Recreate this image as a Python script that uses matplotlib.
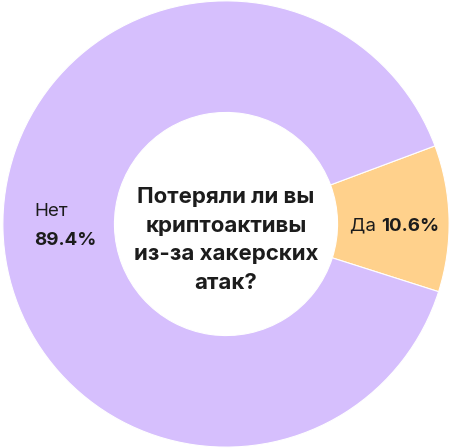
import matplotlib.pyplot as plt

labels = ["Да", "Нет"]
values = [10.6, 89.4]
colors = ["#FFD18C", "#D6BFFD"]
title = "Потеряли ли вы\nкриптоактивы\nиз-за хакерских\nатак?"

plt.rcParams['font.family'] = ['Inter', 'DejaVu Sans']

fig = plt.figure(figsize=(4.52, 4.48), dpi=100)
ax = fig.add_axes([0, 0, 1, 1])
ax.pie(values, colors=colors, startangle=20.5, counterclock=False,
       radius=1.0, wedgeprops=dict(width=0.50, edgecolor="white", linewidth=0.8))
ax.set_xlim(-1.004, 1.004)
ax.set_ylim(-1.004, 1.004)
ax.set_aspect("equal")
ax.axis("off")

ax.text(0, -0.072, title, ha="center", va="center", fontsize=16, fontweight="bold",
        color="#1c1c1c", linespacing=1.53)

# Да label
ax.text(0.555, -0.01, labels[0] + " ", ha="left", va="center", fontsize=13.5, color="#1c1c1c")
ax.text(0.695, -0.01, f"{values[0]}%", ha="left", va="center", fontsize=13.5,
        fontweight="bold", color="#1c1c1c")

# Нет label
ax.text(-0.86, 0.055, labels[1], ha="left", va="center", fontsize=13.5, color="#1c1c1c")
ax.text(-0.86, -0.075, f"{values[1]}%", ha="left", va="center", fontsize=13.5,
        fontweight="bold", color="#1c1c1c")

fig.savefig("out.png", dpi=100)
